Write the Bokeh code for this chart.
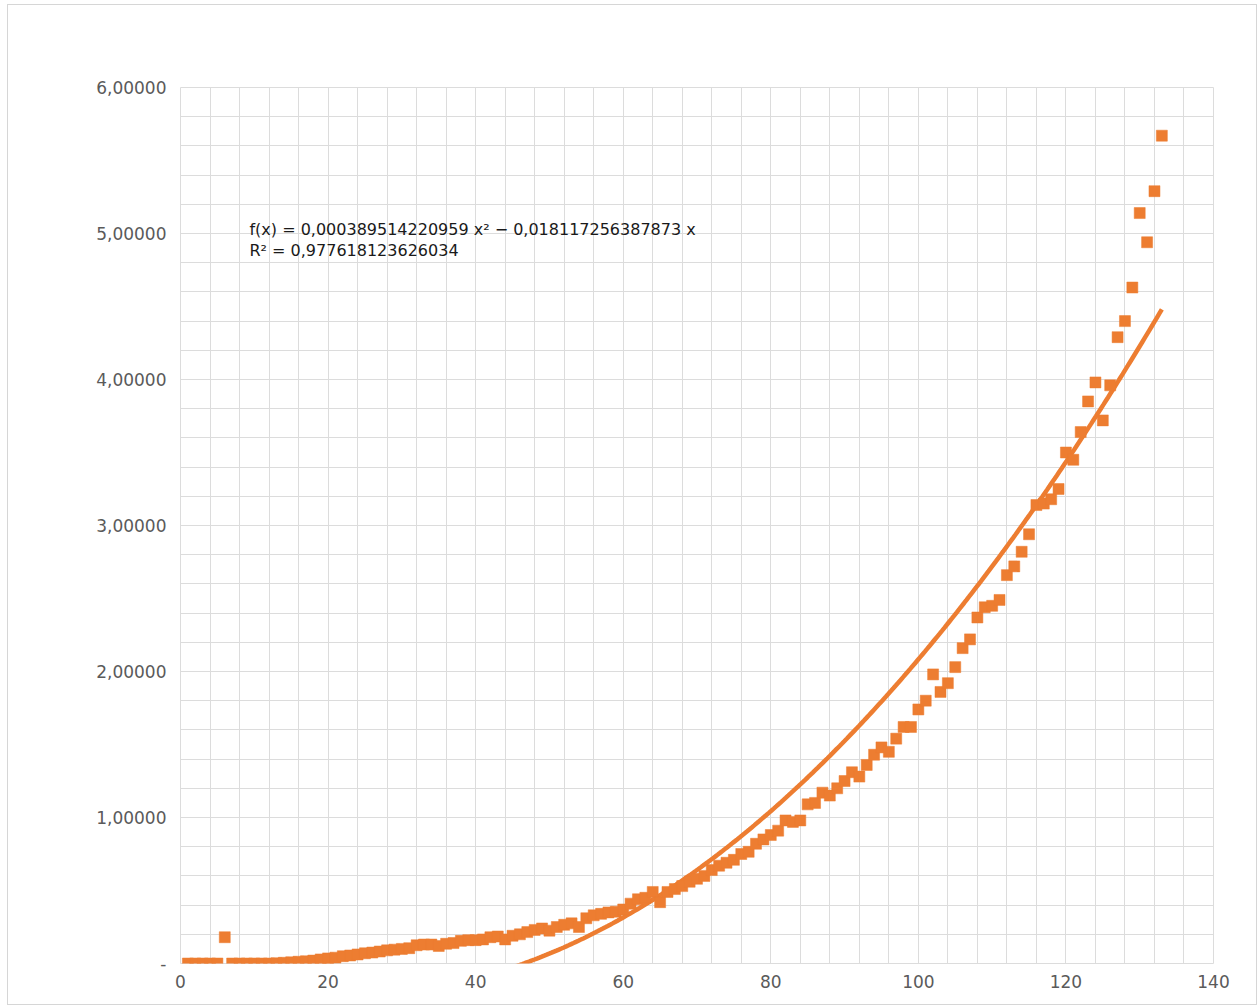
from bokeh.plotting import figure
from bokeh.models import SingleIntervalTicker, FixedTicker, Range1d, Label, ColumnDataSource
from bokeh.embed import file_html
from bokeh.resources import INLINE
import numpy as np

# ---- data ----
x_values = list(range(1, 134))
y_values = [
    0.0, 0.0, 0.0, 0.0, 0.0, 0.18, 0.0, 0.0, 0.0, 0.0,            # 1-10
    0.0, 0.0, 0.002, 0.005, 0.008, 0.012, 0.015, 0.02, 0.028, 0.035,  # 11-20
    0.04, 0.05, 0.055, 0.062, 0.07, 0.075, 0.082, 0.09, 0.095, 0.10,  # 21-30
    0.105, 0.125, 0.13, 0.13, 0.12, 0.135, 0.14, 0.155, 0.16, 0.16,   # 31-40
    0.165, 0.18, 0.185, 0.165, 0.19, 0.20, 0.215, 0.23, 0.24, 0.225,  # 41-50
    0.25, 0.265, 0.275, 0.25, 0.31, 0.33, 0.34, 0.35, 0.355, 0.37,    # 51-60
    0.41, 0.44, 0.45, 0.49, 0.42, 0.49, 0.51, 0.53, 0.56, 0.58,       # 61-70
    0.60, 0.64, 0.67, 0.69, 0.71, 0.75, 0.765, 0.82, 0.85, 0.88,      # 71-80
    0.91, 0.98, 0.97, 0.98, 1.09, 1.10, 1.17, 1.15, 1.20, 1.25,       # 81-90
    1.31, 1.28, 1.36, 1.43, 1.48, 1.45, 1.54, 1.62, 1.62, 1.74,       # 91-100
    1.80, 1.98, 1.86, 1.92, 2.03, 2.16, 2.22, 2.37, 2.44, 2.45,       # 101-110
    2.49, 2.66, 2.72, 2.82, 2.94, 3.14, 3.15, 3.18, 3.25, 3.50,       # 111-120
    3.45, 3.64, 3.85, 3.98, 3.72, 3.96, 4.29, 4.40, 4.63, 5.14,       # 121-130
    4.94, 5.29, 5.67,                                                 # 131-133
]

# trend line coefficients shown on the chart
trend_a = 0.000389514220959
trend_b = -0.018117256387873
trend_text = "f(x) = 0,000389514220959 x\u00b2 \u2212 0,018117256387873 x"
r2_text = "R\u00b2 = 0,977618123626034"

x_ticks = [0, 20, 40, 60, 80, 100, 120, 140]
y_ticks = [0, 1, 2, 3, 4, 5, 6]
y_tick_labels = ["-", "1,00000", "2,00000", "3,00000", "4,00000", "5,00000", "6,00000"]

ORANGE = "#ed7d31"
GRID = "#dcdcdc"

p = figure(
    frame_width=1033, frame_height=876,
    min_border_left=172, min_border_right=43, min_border_top=82, min_border_bottom=41,
    x_range=Range1d(0, 140), y_range=Range1d(0, 6),
    output_backend="svg", toolbar_location=None,
    background_fill_color="white", border_fill_color="white",
)
p.styles = {"box-shadow": "0 0 0 1px #d6d6d6", "margin-left": "8px", "margin-top": "5px"}
p.outline_line_color = GRID

# axes
p.xaxis.ticker = FixedTicker(ticks=x_ticks)
p.yaxis.ticker = FixedTicker(ticks=y_ticks)
p.yaxis.major_label_overrides = {t: lab for t, lab in zip(y_ticks, y_tick_labels)}
for ax in (p.xaxis[0], p.yaxis[0]):
    ax.axis_line_color = None
    ax.major_tick_line_color = None
    ax.minor_tick_line_color = None
    ax.major_label_text_font = "DejaVu Sans"
    ax.major_label_text_font_size = "17px"
    ax.major_label_text_color = "#5a5a5a"
p.yaxis.major_label_standoff = 8
p.xaxis.major_label_standoff = 5

# grid (fine)
p.xgrid.ticker = SingleIntervalTicker(interval=4)
p.ygrid.ticker = SingleIntervalTicker(interval=0.2)
p.xgrid.grid_line_color = GRID
p.ygrid.grid_line_color = GRID
p.xgrid.grid_line_width = 1
p.ygrid.grid_line_width = 1

# trend line
tx = np.linspace(1, 133, 400)
ty = trend_a * tx ** 2 + trend_b * tx
p.line(tx, ty, line_color=ORANGE, line_width=4.5)

# data points
src = ColumnDataSource(dict(x=x_values, y=y_values))
p.scatter("x", "y", source=src, marker="square", size=11,
          fill_color=ORANGE, line_color=ORANGE, line_width=0.5)

# equation labels
p.add_layout(Label(x=9.35, y=5.027, text=trend_text, text_align="left",
                   text_baseline="middle", text_font="DejaVu Sans",
                   text_font_size="16px", text_color="#1a1a1a"))
p.add_layout(Label(x=9.35, y=4.884, text=r2_text, text_align="left",
                   text_baseline="middle", text_font="DejaVu Sans",
                   text_font_size="16px", text_color="#1a1a1a"))

open("out.html", "w").write(file_html(p, INLINE))
